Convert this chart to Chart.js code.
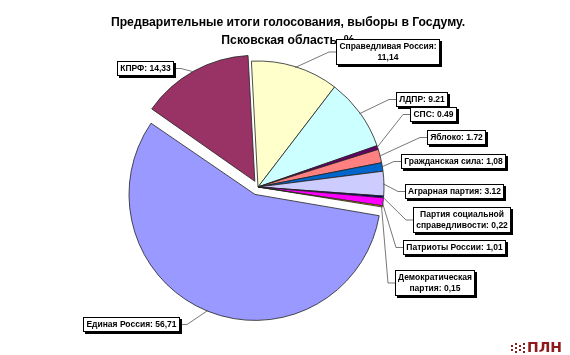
<!DOCTYPE html>
<html><head><meta charset="utf-8">
<script src="https://cdn.jsdelivr.net/npm/chart.js@4.4.1/dist/chart.umd.min.js"></script>
<style>html,body{margin:0;padding:0;background:#fff}#wrap{width:570px;height:355px;position:relative}</style>
</head><body><div id="wrap"><canvas id="c" width="570" height="355"></canvas></div>
<script>
const categories = ['Справедливая Россия','ЛДПР','СПС','Яблоко','Гражданская сила','Аграрная партия','Партия социальной\nсправедливости','Патриоты России','Демократическая\nпартия','Единая Россия','КПРФ'];
const values = [11.14,9.21,0.49,1.72,1.08,3.12,0.22,1.01,0.15,56.71,14.33];
const decimalMarks = [',', '.', '.', '.', ',', '.', ',', ',', ',', ',', ','];
const colors = ['#FFFFCC','#CCFFFF','#660066','#FF8080','#0066CC','#CCCCFF','#000080','#FF00FF','#FFCC00','#9999FF','#993366'];
const explode = [0,0,0,0,0,0,0,0,0,32,26];
const titleLines = ['Предварительные итоги голосования, выборы в Госдуму.','Псковская область, %'];

// label box layout: [left, top, side of leader, break after colon]
const boxLayout = [
  [336,39,'L',true],[396,92,'L',false],[410,107,'L',false],[427,130,'L',false],
  [401,154,'L',false],[405,184,'L',false],[413,207,'L',false],[403,240,'L',false],
  [395,270,'L',false],[83,317,'R',false],[117,61,'R',false]
];

function labelLines(i){
  const v = values[i].toFixed(2).replace('.', decimalMarks[i]);
  let s = categories[i] + ':' + (boxLayout[i][3] ? '\n' : ' ') + v;
  return s.split('\n');
}

// keep exploded slices at the same radius as the others (Chart.js grows them by offset)
const radiusFix = {
  id:'radiusFix',
  beforeDatasetsDraw(chart){
    const meta = chart.getDatasetMeta(0);
    const R = meta.controller.outerRadius;
    meta.data.forEach(arc => {
      const off = (arc.options.offset || 0) / 4;
      const circ = arc.endAngle - arc.startAngle;
      const fix = 1 - Math.sin(Math.min(Math.PI, circ));
      arc.outerRadius = R - off * fix;
    });
  }
};

const labelPlugin = {
  id:'labels',
  afterDraw(chart){
    const ctx = chart.ctx;
    ctx.save();
    // title
    ctx.fillStyle = '#000';
    ctx.font = 'bold 12.2px "Liberation Sans", Arial, sans-serif';
    ctx.textAlign = 'center'; ctx.textBaseline = 'middle';
    ctx.fillText(titleLines[0], 288, 23);
    ctx.fillText(titleLines[1], 288, 41);

    const meta = chart.getDatasetMeta(0);
    const R = meta.controller.outerRadius;
    ctx.font = 'bold 8.5px "Liberation Sans", Arial, sans-serif';
    const lh = 11.5;
    const boxes = [];
    meta.data.forEach((arc, i) => {
      const lines = labelLines(i);
      const w = Math.ceil(Math.max(...lines.map(l => ctx.measureText(l).width))) + 6;
      const h = Math.round(lines.length * lh + 3);
      const [bx, by, side] = boxLayout[i];
      const mid = (arc.startAngle + arc.endAngle) / 2;
      const off = (arc.options.offset || 0) / 4;
      const r = R + off - 1;
      const ax = arc.x + Math.cos(mid) * r, ay = arc.y + Math.sin(mid) * r;
      const sx = side === 'L' ? bx : bx + w;
      const sy = by + h / 2;
      const ex = side === 'L' ? sx - 7 : sx + 7;
      ctx.strokeStyle = '#555'; ctx.lineWidth = 0.8;
      ctx.beginPath(); ctx.moveTo(sx, sy); ctx.lineTo(ex, sy); ctx.lineTo(ax, ay); ctx.stroke();
      boxes.push({bx, by, w, h, lines});
    });
    boxes.forEach(b => {
      ctx.fillStyle = '#000';
      ctx.fillRect(b.bx + 2, b.by + 2, b.w, b.h);
      ctx.fillStyle = '#fff';
      ctx.fillRect(b.bx, b.by, b.w, b.h);
      ctx.strokeStyle = '#000'; ctx.lineWidth = 1;
      ctx.strokeRect(b.bx + 0.5, b.by + 0.5, b.w - 1, b.h - 1);
      ctx.fillStyle = '#000'; ctx.textAlign = 'center'; ctx.textBaseline = 'middle';
      b.lines.forEach((l, k) => ctx.fillText(l, b.bx + b.w / 2, b.by + 1.5 + lh * k + lh / 2));
    });
    // logo
    ctx.fillStyle = '#8E1B1B';
    [[511,345],[511,349],[515,343],[515,347],[515,351],[519,345],[519,349],[523,343],[523,347],[523,351]].forEach(d => ctx.fillRect(d[0], d[1], 2, 2));
    ctx.font = 'bold 14px "DejaVu Sans", sans-serif';
    ctx.textAlign = 'left'; ctx.textBaseline = 'alphabetic';
    ctx.fillText('ПЛН', 527, 352);
    ctx.restore();
  }
};

new Chart(document.getElementById('c'), {
  type:'pie',
  data:{
    labels: categories,
    datasets:[{
      data: values,
      backgroundColor: colors,
      borderColor: '#222',
      borderWidth: 0.8,
      offset: explode
    }]
  },
  options:{
    responsive:false,
    animation:false,
    devicePixelRatio:1,
    rotation:-3,
    radius:126,
    layout:{padding:{left:100,right:154,top:60,bottom:41}},
    plugins:{legend:{display:false},tooltip:{enabled:false},title:{display:false}}
  },
  plugins:[radiusFix, labelPlugin]
});
</script>
</body></html>
